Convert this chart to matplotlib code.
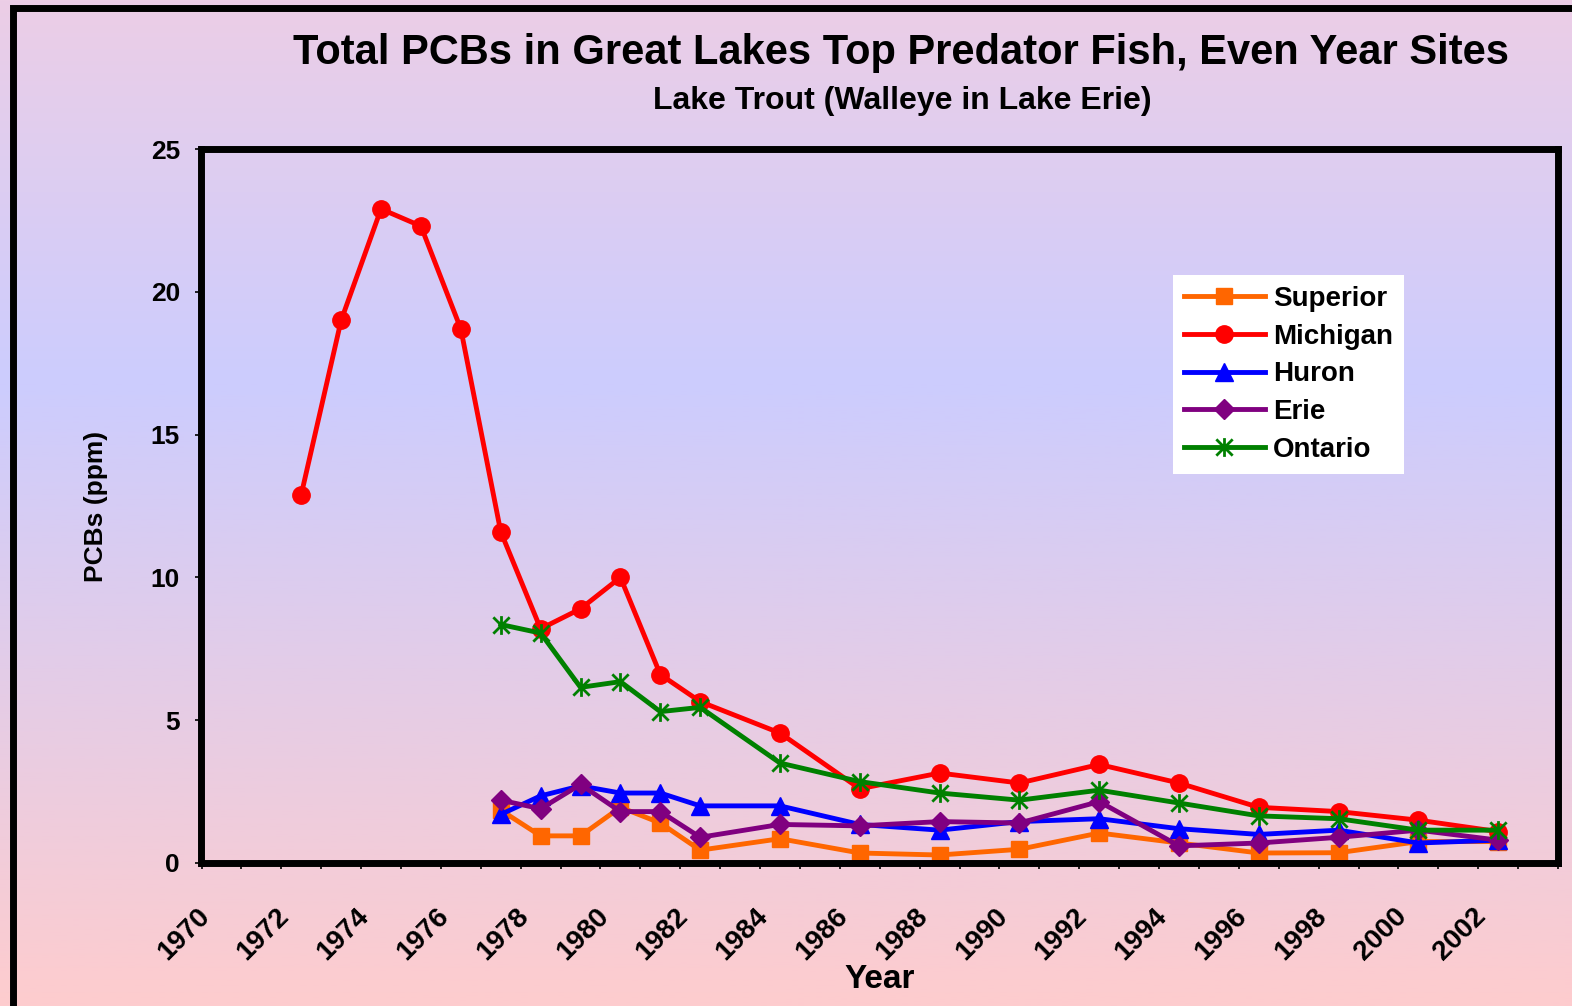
import matplotlib.pyplot as plt
import matplotlib.transforms as mtransforms
from matplotlib.path import Path
from matplotlib.patches import Rectangle
import numpy as np

plt.rcParams['font.family'] = ['Liberation Sans', 'DejaVu Sans']
plt.rcParams['font.weight'] = 'bold'

# Survey years (Michigan has annual data through 1982, then even years)
years_michigan = [1972, 1973, 1974, 1975, 1976, 1977, 1978, 1979, 1980, 1981, 1982,
                  1984, 1986, 1988, 1990, 1992, 1994, 1996, 1998, 2000, 2002]
years_other = [1977, 1978, 1979, 1980, 1981, 1982,
               1984, 1986, 1988, 1990, 1992, 1994, 1996, 1998, 2000, 2002]

michigan = [12.9, 19.0, 22.9, 22.3, 18.7, 11.6, 8.2, 8.9, 10.0, 6.6, 5.65,
            4.55, 2.6, 3.15, 2.8, 3.45, 2.8, 1.95, 1.8, 1.5, 1.1]
superior = [1.85, 0.95, 0.95, 1.95, 1.4, 0.45,
            0.85, 0.35, 0.28, 0.48, 1.05, 0.7, 0.35, 0.36, 0.75, 0.75]
huron = [1.7, 2.35, 2.7, 2.45, 2.45, 2.0,
         2.0, 1.35, 1.15, 1.45, 1.55, 1.2, 1.0, 1.15, 0.7, 0.8]
erie = [2.2, 1.9, 2.75, 1.8, 1.8, 0.9,
        1.35, 1.3, 1.45, 1.4, 2.15, 0.6, 0.7, 0.9, 1.15, 0.8]
ontario = [8.35, 8.05, 6.15, 6.35, 5.3, 5.45,
           3.5, 2.85, 2.45, 2.2, 2.55, 2.1, 1.65, 1.55, 1.15, 1.15]

tick_years = list(range(1970, 2003, 2))

W, H = 1572, 1006
fig = plt.figure(figsize=(W / 100, H / 100), dpi=100)

# vertical gradient background (lavender top, periwinkle middle, pink bottom)
bg = fig.add_axes([0, 0, 1, 1], zorder=-10)
stops = np.array([0.0, 0.38, 1.0])
cols = np.array([[236, 206, 230], [204, 204, 254], [254, 204, 206]]) / 255.0
t = np.linspace(0, 1, 400)
grad = np.stack([np.interp(t, stops, cols[:, i]) for i in range(3)], axis=1)
bg.imshow(grad[:, None, :], aspect='auto', extent=[0, 1, 1, 0])
bg.set_xlim(0, 1)
bg.set_ylim(1, 0)
bg.axis('off')

# outer frame of the chart area
fig.patches.append(Rectangle((13 / W, -4 / H), 1.2, (H - 8 + 4) / H, transform=fig.transFigure,
                             fill=False, edgecolor='black', linewidth=5, zorder=-5))

ax = fig.add_axes([201.5 / W, 1 - 863 / H, (1558 - 201.5) / W, (863 - 149) / H], zorder=1)
ax.set_facecolor('none')

x_m = np.array(years_michigan) + 0.5
x_o = np.array(years_other) + 0.5

# asterisk marker: vertical stroke plus two diagonals
star = Path([(0, -1), (0, 1), (-0.87, -0.87), (0.87, 0.87), (-0.87, 0.87), (0.87, -0.87)],
            [Path.MOVETO, Path.LINETO, Path.MOVETO, Path.LINETO, Path.MOVETO, Path.LINETO])

lw = 3.5
ax.plot(x_o, superior, color='#ff6600', lw=lw, marker='s', ms=11.5, label='Superior', clip_on=False)
ax.plot(x_m, michigan, color='#ff0000', lw=lw, marker='o', ms=12.5, label='Michigan', clip_on=False)
ax.plot(x_o, huron, color='#0000ff', lw=lw, marker='^', ms=12.5, label='Huron', clip_on=False)
ax.plot(x_o, erie, color='#800080', lw=lw, marker='D', ms=10.5, label='Erie', clip_on=False)
ax.plot(x_o, ontario, color='#008000', lw=lw, marker=star, ms=13.5, mew=2, mfc='none',
        mec='#008000', label='Ontario', clip_on=False)

ax.set_xlim(1970, 2004)
ax.set_ylim(0, 25)
ax.set_yticks([0, 5, 10, 15, 20, 25])
ax.set_xticks(tick_years)
ax.set_xticks(range(1970, 2005), minor=True)
ax.set_xticklabels([str(y) for y in tick_years], rotation=45, ha='right', va='center',
                   rotation_mode='anchor', fontsize=20, fontweight='bold')
ax.tick_params(axis='x', which='both', direction='out', length=4.5, width=1.2, pad=31)
ax.tick_params(axis='y', direction='out', length=4.5, width=1.2, pad=11, labelsize=19)
for lab in ax.get_yticklabels():
    lab.set_fontweight('bold')
shift = mtransforms.ScaledTranslation(4 / 100, 0, fig.dpi_scale_trans)
for lab in ax.get_xticklabels():
    lab.set_transform(lab.get_transform() + shift)

for sp in ax.spines.values():
    sp.set_linewidth(5)
    sp.set_color('black')

ax.set_xlabel('Year', fontsize=24, fontweight='bold', labelpad=-1)
ax.set_ylabel('PCBs (ppm)', fontsize=19, fontweight='bold', labelpad=31)

fig.text(0.573, 1 - 53 / H, 'Total PCBs in Great Lakes Top Predator Fish, Even Year Sites',
         ha='center', va='center', fontsize=30, fontweight='bold')
fig.text(0.574, 1 - 101 / H, 'Lake Trout (Walleye in Lake Erie)',
         ha='center', va='center', fontsize=23, fontweight='bold')

leg = ax.legend(loc='upper left', bbox_to_anchor=((1173 - 201.5) / (1558 - 201.5), (863 - 275) / (863 - 149)),
                fontsize=20, frameon=True, fancybox=False, framealpha=1, edgecolor='white',
                handlelength=2.9, labelspacing=0.42, borderpad=0.4, handletextpad=0.3,
                borderaxespad=0)
leg.get_frame().set_linewidth(0)
for txt in leg.get_texts():
    txt.set_fontweight('bold')

fig.savefig('out.png', dpi=100)
